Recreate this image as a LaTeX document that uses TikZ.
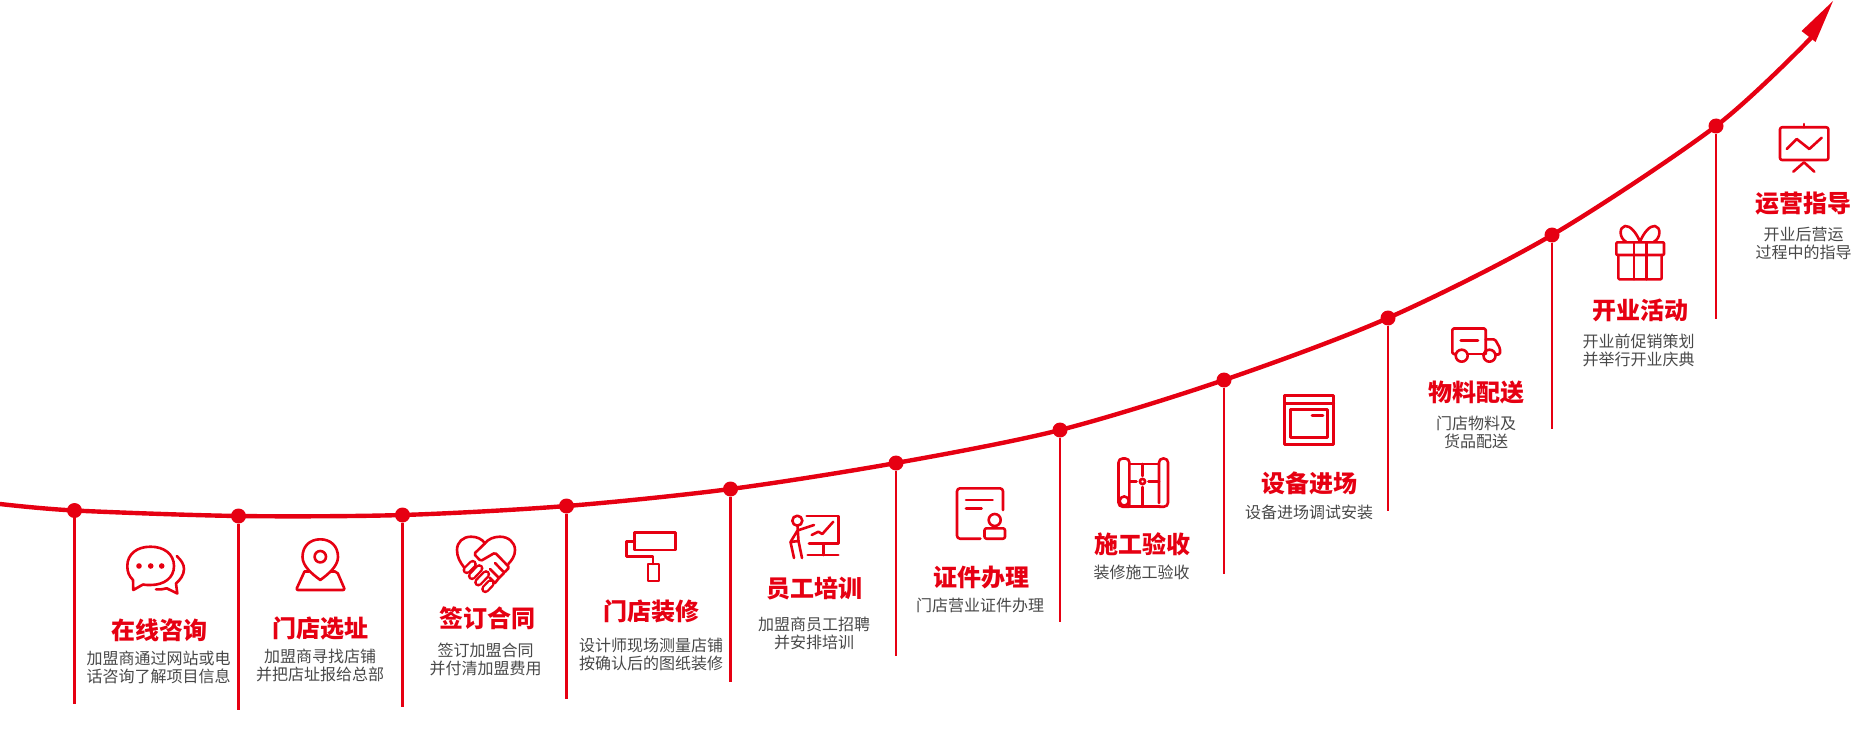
\documentclass[tikz,border=0pt]{standalone}
\usepackage{fontspec}
\usepackage{amsmath}
\newfontfamily\cjk{Noto Sans CJK SC}
\definecolor{brandred}{HTML}{E60012}
\definecolor{desctext}{HTML}{484848}
\tikzset{
  dot/.style={circle, fill=brandred, inner sep=0pt, minimum size=15pt},
  stem/.style={draw=brandred, line width=2.4pt},
  curveline/.style={draw=brandred, line width=4.4pt},
  icon/.style={draw=brandred, line width=2.6pt, line join=round, line cap=round},
  capsule/.style={draw=brandred, line width=2.4pt, double=white, double distance=3.6pt, line cap=round},
  titlelabel/.style={text=brandred, inner sep=0pt, font=\cjk\bfseries\fontsize{24}{24}\selectfont},
  desclabel/.style={text=desctext, inner sep=0pt, align=center, font=\cjk\fontsize{16}{18}\selectfont}
}
\begin{document}
\begin{tikzpicture}[x=1pt,y=-1pt]
\useasboundingbox (0,0) rectangle (1851,754);
\coordinate (c0) at (0,504);
\coordinate (c12) at (1811,38);
\node[dot] (d1) at (74.5,510.5) {};
\node[dot] (d2) at (238.5,516) {};
\node[dot] (d3) at (402.5,515) {};
\node[dot] (d4) at (566.5,506) {};
\node[dot] (d5) at (730.5,489) {};
\node[dot] (d6) at (896,463) {};
\node[dot] (d7) at (1060,430) {};
\node[dot] (d8) at (1224,380) {};
\node[dot] (d9) at (1388,318) {};
\node[dot] (d10) at (1552,235) {};
\node[dot] (d11) at (1716,126) {};
\coordinate (e1) at (74.5,703.5);
\coordinate (e2) at (238.5,709.5);
\coordinate (e3) at (402.5,707);
\coordinate (e4) at (566.5,699);
\coordinate (e5) at (730.5,682);
\coordinate (e6) at (896,656);
\coordinate (e7) at (1060,622);
\coordinate (e8) at (1224,574);
\coordinate (e9) at (1388,511);
\coordinate (e10) at (1552,428.5);
\coordinate (e11) at (1716,319);
\draw[curveline] plot[smooth, tension=0.5] coordinates {(c0) (d1) (d2) (d3) (d4) (d5) (d6) (d7) (d8) (d9) (d10) (d11) (c12)};
\fill[brandred] (1833,1) -- (1801.5,31) -- (1815.5,42) -- cycle;
\draw[stem] (d1) -- (e1);
\draw[stem] (d2) -- (e2);
\draw[stem] (d3) -- (e3);
\draw[stem] (d4) -- (e4);
\draw[stem] (d5) -- (e5);
\draw[stem] (d6) -- (e6);
\draw[stem] (d7) -- (e7);
\draw[stem] (d8) -- (e8);
\draw[stem] (d9) -- (e9);
\draw[stem] (d10) -- (e10);
\draw[stem] (d11) -- (e11);

\node[titlelabel] (t1) at (159,630) {在线咨询};
\node[desclabel] (s1) at (158.5,667.5) {加盟商通过网站或电\\话咨询了解项目信息};
\node[titlelabel] (t2) at (320,628) {门店选址};
\node[desclabel] (s2) at (320,665) {加盟商寻找店铺\\并把店址报给总部};
\node[titlelabel] (t3) at (487,618.5) {签订合同};
\node[desclabel] (s3) at (485.5,659) {签订加盟合同\\并付清加盟费用};
\node[titlelabel] (t4) at (651,611.5) {门店装修};
\node[desclabel] (s4) at (651,654) {设计师现场测量店铺\\按确认后的图纸装修};
\node[titlelabel] (t5) at (814,588) {员工培训};
\node[desclabel] (s5) at (814,633) {加盟商员工招聘\\并安排培训};
\node[titlelabel] (t6) at (981,577.5) {证件办理};
\node[desclabel] (s6) at (980,605.5) {门店营业证件办理};
\node[titlelabel] (t7) at (1142.5,544) {施工验收};
\node[desclabel] (s7) at (1141.5,572.5) {装修施工验收};
\node[titlelabel] (t8) at (1309,483) {设备进场};
\node[desclabel] (s8) at (1309,512.5) {设备进场调试安装};
\node[titlelabel] (t9) at (1476,392) {物料配送};
\node[desclabel] (s9) at (1476,432) {门店物料及\\货品配送};
\node[titlelabel] (t10) at (1640,310.5) {开业活动};
\node[desclabel] (s10) at (1638.5,350) {开业前促销策划\\并举行开业庆典};
\node[titlelabel] (t11) at (1803.5,204) {运营指导};
\node[desclabel] (s11) at (1803.5,243) {开业后营运\\过程中的指导};

\draw[icon] (133.3,590) -- (133,580) .. controls (129,576) and (127.3,572) .. (127.3,566) .. controls (127.3,554) and (137,546.7) .. (150.5,546.7) .. controls (164,546.7) and (174,554) .. (174,566) .. controls (174,578) and (164,585) .. (150.5,585) .. controls (147,585) and (145,585) .. (143,584.5) -- cycle;
\fill[brandred] (139,566) circle (2.8) (150.7,566) circle (2.8) (161.7,566) circle (2.8);
\draw[icon] (176.7,556) .. controls (181,560) and (184,564) .. (184,569) .. controls (184,575) and (180,580) .. (176,583.5) -- (177.3,593.5) -- (166.7,588.3) .. controls (163,589.5) and (160,589.5) .. (156,589.3);

\draw[icon] (320.3,580) .. controls (312,574) and (302.5,566) .. (302.5,557) .. controls (302.5,546) and (310,539.3) .. (320.3,539.3) .. controls (330.5,539.3) and (338,546) .. (338,557) .. controls (338,566) and (328.5,574) .. (320.3,580) -- cycle;
\draw[icon] (320.3,556.7) circle (5.7);
\draw[icon, rounded corners=2pt] (304.5,571.5) -- (296,590) -- (345,590) -- (337,571.5) -- (331,571.5);
\draw[icon] (304.5,571.5) -- (309,571.5);

\draw[icon] (464,567.3) .. controls (460,562) and (457,557) .. (457,550) .. controls (457,542) and (463,536.7) .. (471,536.7) .. controls (477,536.7) and (482,539) .. (485,543.3) .. controls (488,539) and (494,536.7) .. (500,536.7) .. controls (508,536.7) and (515,542) .. (515,550) .. controls (515,556) and (512,560) .. (508.3,564);
\draw[icon, rounded corners=1.5pt] (485,543.3) -- (474,554) -- (480.7,561) -- (495,552.7) -- (509.3,567.3) -- (504.3,572.7) -- (495,563);
\draw[icon] (504.3,572.7) -- (499,578) -- (490,569);
\draw[icon] (499,578) -- (495,583) -- (489.5,577.5);
\draw[capsule] (466.7,570) -- (472.7,564);
\draw[capsule] (472,576) -- (479.3,568.3);
\draw[capsule] (478.3,582.3) -- (486,574.3);
\draw[capsule] (485.3,589) -- (490.7,583.3);

\draw[icon] (634.7,532.7) rectangle (675.5,550);
\draw[icon] (634.7,541.7) -- (626.5,541.7) -- (626.5,556.7) -- (653,556.7) -- (653,564);
\draw[icon] (647.8,564) rectangle (658.8,581);

\draw[icon] (797.3,520.7) circle (5);
\draw[icon] (814,525) -- (797.5,530.5) -- (790.5,542) -- (794,558) (797.5,526) -- (798.5,541) -- (802,558) (790.5,542) -- (798.5,541);
\draw[icon] (806.7,516) -- (838.3,516) -- (838.3,543.3) -- (809,543.3) (823.3,543.3) -- (823.3,555) (807.7,555) -- (838.3,555);
\draw[icon] (811.7,535) -- (818.3,531.7) -- (822.3,534) -- (833.3,521.7);

\draw[icon, rounded corners=3pt] (1003,510) -- (1003,488.3) -- (957,488.3) -- (957,538.7) -- (980.4,538.7);
\draw[icon] (966,500) -- (992.6,500) (966,508.3) -- (981.6,508.3);
\draw[icon] (994.7,520) circle (6);
\draw[icon, rounded corners=2pt] (984.5,528.3) rectangle (1005,538.7);

\draw[icon, rounded corners=4pt] (1129.4,506.7) -- (1118.5,506.7) -- (1118.5,458.5) -- (1129.4,458.5) -- (1129.4,506.7);
\draw[icon] (1124.2,501) circle (4.6);
\draw[icon] (1129.4,464) -- (1159,464) (1129.4,506.7) -- (1160,506.7);
\draw[icon, rounded corners=4pt] (1159,503) -- (1159,458.5) -- (1168,458.5) -- (1168,506.7) -- (1159,506.7);
\draw[icon] (1142.5,481.5) circle (2.6);
\draw[icon] (1142.5,464) -- (1142.5,476) (1142.5,487) -- (1142.5,506.7) (1129.4,481.5) -- (1136.5,481.5) (1148.5,481.5) -- (1159,481.5);

\draw[icon] (1284.3,395.7) rectangle (1333.7,444.3);
\draw[icon] (1284.3,403.3) -- (1333.7,403.3);
\draw[icon] (1290.5,409.3) rectangle (1327.4,437.3);
\draw[icon] (1312,415.7) -- (1323,415.7);

\draw[icon, rounded corners=1.5pt] (1455.5,354) -- (1452.3,354) -- (1452.3,328.5) -- (1485.7,328.5) -- (1485.7,354);
\draw[icon] (1467.8,354) -- (1483.5,354);
\draw[icon, rounded corners=1.5pt] (1485.7,339.3) -- (1495,339.3) -- (1500,348.3) -- (1500,354.5) -- (1495.5,354.5);
\draw[icon] (1461.7,355.7) circle (6);
\draw[icon] (1489.5,355.7) circle (6);
\draw[icon] (1460.7,340.7) -- (1478,340.7);

\draw[icon, rounded corners=1pt] (1616.3,242.3) rectangle (1664,255);
\draw[icon, rounded corners=1pt] (1618.4,255) -- (1618.4,279.3) -- (1661.6,279.3) -- (1661.6,255);
\draw[icon] (1633.8,242.3) -- (1633.8,279.3) (1646.2,242.3) -- (1646.2,279.3);
\draw[icon] (1640,241.7) .. controls (1636,232) and (1630,225.5) .. (1625,226) .. controls (1619,227) and (1619,238) .. (1626,241.7);
\draw[icon] (1640,241.7) .. controls (1644,232) and (1650,225.5) .. (1655,226) .. controls (1661,227) and (1661,238) .. (1654,241.7);

\draw[icon, rounded corners=2pt] (1780,127.3) rectangle (1828.3,160);
\draw[icon] (1804,124) -- (1804,127.3);
\draw[icon] (1786.7,149) -- (1796.7,139) -- (1809.3,149) -- (1821.7,137.7);
\draw[icon] (1793.3,171.7) -- (1804,162.3) -- (1814.3,171.7);
\end{tikzpicture}
\end{document}
